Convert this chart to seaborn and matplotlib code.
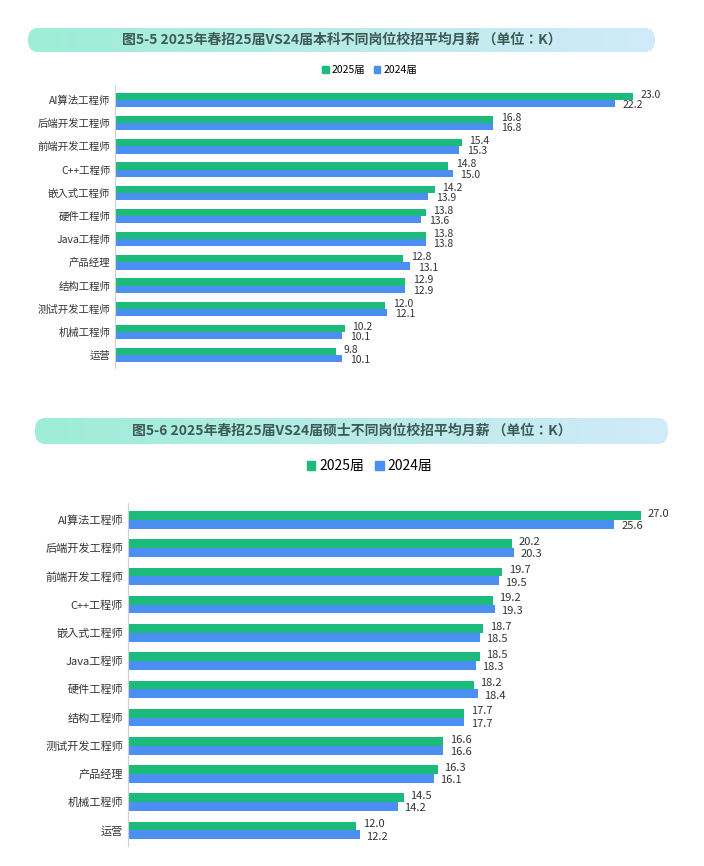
import numpy as np
import pandas as pd
import matplotlib.pyplot as plt
import seaborn as sns
from matplotlib import font_manager
from matplotlib.patches import FancyBboxPatch

# pick whatever CJK family is actually registered
cjk = [f.name for f in font_manager.fontManager.ttflist if 'CJK' in f.name]
cjk_name = 'Noto Sans CJK SC' if 'Noto Sans CJK SC' in cjk else (cjk[0] if cjk else 'DejaVu Sans')
plt.rcParams['font.family'] = [cjk_name, 'DejaVu Sans']

# Data
ug_jobs = ['AI算法工程师', '后端开发工程师', '前端开发工程师', 'C++工程师', '嵌入式工程师', '硬件工程师',
           'Java工程师', '产品经理', '结构工程师', '测试开发工程师', '机械工程师', '运营']
ug_2025 = [23.0, 16.8, 15.4, 14.8, 14.2, 13.8, 13.8, 12.8, 12.9, 12.0, 10.2, 9.8]
ug_2024 = [22.2, 16.8, 15.3, 15.0, 13.9, 13.6, 13.8, 13.1, 12.9, 12.1, 10.1, 10.1]

ms_jobs = ['AI算法工程师', '后端开发工程师', '前端开发工程师', 'C++工程师', '嵌入式工程师', 'Java工程师',
           '硬件工程师', '结构工程师', '测试开发工程师', '产品经理', '机械工程师', '运营']
ms_2025 = [27.0, 20.2, 19.7, 19.2, 18.7, 18.5, 18.2, 17.7, 16.6, 16.3, 14.5, 12.0]
ms_2024 = [25.6, 20.3, 19.5, 19.3, 18.5, 18.3, 18.4, 17.7, 16.6, 16.1, 14.2, 12.2]

series = ['2025届', '2024届']
colors = ['#1dbb7b', '#4b8ff2']


def long_df(jobs, a, b):
    return pd.DataFrame({'job': jobs * 2, 'value': a + b,
                         'year': [series[0]] * len(jobs) + [series[1]] * len(jobs)})


def title_box(fig, x0, y0, w, h, text):
    box = FancyBboxPatch((x0, y0), w, h, boxstyle='round,pad=0,rounding_size=0.014',
                         transform=fig.transFigure, facecolor='none', edgecolor='none')
    fig.add_artist(box)
    grad = np.linspace(0, 1, 256).reshape(1, -1)
    c0 = np.array([0.62, 0.93, 0.84])
    c1 = np.array([0.82, 0.92, 0.98])
    img = c0[None, None, :] * (1 - grad[..., None]) + c1[None, None, :] * grad[..., None]
    ax = fig.add_axes([x0, y0, w, h])
    ax.axis('off')
    im = ax.imshow(img, aspect='auto', extent=[0, 1, 0, 1])
    im.set_clip_path(box)
    fig.text(x0 + w / 2, y0 + h / 2, text, ha='center', va='center',
             fontsize=10, fontweight='bold', color='#3d5a55')


def draw(ax, jobs, a, b, xmax, fs):
    df = long_df(jobs, a, b)
    sns.barplot(data=df, y='job', x='value', hue='year', palette=colors,
                width=0.62, ax=ax, legend=False, saturation=1)
    n = len(jobs)
    for i in range(n):
        ax.text(a[i] + 0.35, i - 0.22, f'{a[i]:.1f}', va='center', fontsize=fs, color='#333333')
        ax.text(b[i] + 0.35, i + 0.22, f'{b[i]:.1f}', va='center', fontsize=fs, color='#333333')
    ax.set_xlim(0, xmax)
    ax.set_ylim(n - 0.45, -0.6)
    ax.set_xlabel('')
    ax.set_ylabel('')
    ax.set_xticks([])
    for s in ['top', 'right', 'bottom']:
        ax.spines[s].set_visible(False)
    ax.spines['left'].set_color('#d0d0d0')
    ax.tick_params(axis='y', length=0, labelsize=fs, colors='#333333')


def legend(fig, y, fs):
    handles = [plt.Rectangle((0, 0), 1, 1, color=c) for c in colors]
    fig.legend(handles, series, loc='center', bbox_to_anchor=(0.525, y), ncol=2, frameon=False,
               fontsize=fs, handlelength=0.6, handleheight=0.6, columnspacing=0.8, handletextpad=0.3)


fig = plt.figure(figsize=(7.04, 8.66), dpi=100)

title_box(fig, 28 / 704, 1 - 52 / 866, 627 / 704, 24 / 866,
          '图5-5 2025年春招25届VS24届本科不同岗位校招平均月薪 （单位：K）')
legend(fig, 1 - 70 / 866, 7.5)
ax1 = fig.add_axes([115 / 704, 1 - 368 / 866, 585 / 704, 282 / 866])
draw(ax1, ug_jobs, ug_2025, ug_2024, 26, 7.5)

title_box(fig, 35 / 704, 1 - 444 / 866, 633 / 704, 26 / 866,
          '图5-6 2025年春招25届VS24届硕士不同岗位校招平均月薪 （单位：K）')
legend(fig, 1 - 466 / 866, 10)
ax2 = fig.add_axes([128 / 704, 1 - 846 / 866, 570 / 704, 343 / 866])
draw(ax2, ms_jobs, ms_2025, ms_2024, 30, 8)

fig.savefig('out.png', dpi=100)
